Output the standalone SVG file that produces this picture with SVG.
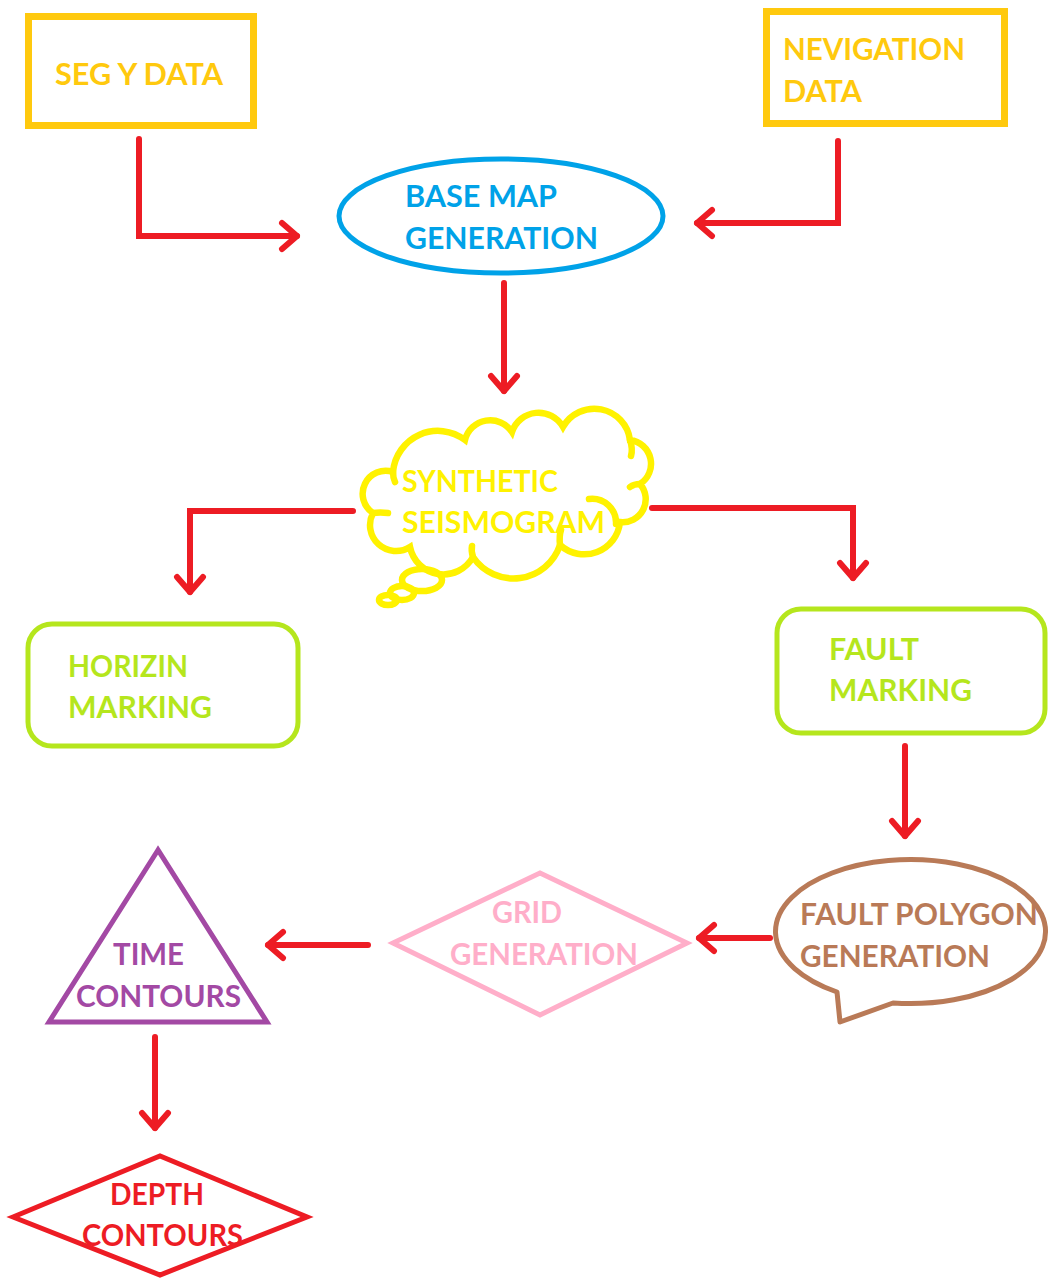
<svg xmlns="http://www.w3.org/2000/svg" width="1049" height="1279" viewBox="0 0 1049 1279">
<defs>
<marker id="arr" markerUnits="userSpaceOnUse" markerWidth="40" markerHeight="40" viewBox="-20 -20 40 40" refX="0" refY="0" orient="auto" overflow="visible">
<path d="M-15,-13 L0,0 L-15,13" fill="none" stroke="#ed1c24" stroke-width="6" stroke-linecap="round" stroke-linejoin="round"/>
</marker>
</defs>
<style>
.t{font-family:Lato,"Open Sans","Liberation Sans",sans-serif;font-weight:bold;font-size:30px}
</style>
<rect width="1049" height="1279" fill="#ffffff"/>
<g id="connectors" fill="none" stroke="#ed1c24" stroke-width="6" stroke-linecap="round" marker-end="url(#arr)">
<path d="M139,139 V236 H297"/>
<path d="M838,141 V223 H697"/>
<path d="M504,283 V391"/>
<path d="M353,511 H190 V592"/>
<path d="M652,508 H853 V578"/>
<path d="M905,746 V836"/>
<path d="M770,938 H699"/>
<path d="M368,945 H268"/>
<path d="M155,1037 V1128"/>
</g>
<g id="segy">
<rect x="28.5" y="16.5" width="225" height="109" fill="none" stroke="#ffc90e" stroke-width="7"/>
<text class="t" x="55" y="85" fill="#ffc90e" textLength="168" lengthAdjust="spacingAndGlyphs">SEG Y DATA</text>
</g>
<g id="navigation">
<rect x="766.5" y="11.5" width="238" height="112" fill="none" stroke="#ffc90e" stroke-width="7"/>
<text class="t" x="783" y="60" fill="#ffc90e" textLength="182" lengthAdjust="spacingAndGlyphs">NEVIGATION</text>
<text class="t" x="783" y="102" fill="#ffc90e" textLength="79" lengthAdjust="spacingAndGlyphs">DATA</text>
</g>
<g id="basemap">
<ellipse cx="501" cy="216" rx="162" ry="57" fill="none" stroke="#00a2e8" stroke-width="5"/>
<text class="t" x="405" y="207" fill="#00a2e8" textLength="152" lengthAdjust="spacingAndGlyphs">BASE MAP</text>
<text class="t" x="405" y="249" fill="#00a2e8" textLength="193" lengthAdjust="spacingAndGlyphs">GENERATION</text>
</g>
<g id="synthetic" fill="none" stroke="#fff200" stroke-width="6.5" stroke-linecap="round">
<path d="M393,472 A45,45 0 0 1 465,440 A26,26 0 0 1 512,432 A28,28 0 0 1 563,427 A36,36 0 0 1 630,440 A24,24 0 0 1 640,484 A23,23 0 0 1 620,522 A36,36 0 0 1 560,545 A49,49 0 0 1 473,557 A34,34 0 0 1 410,547 A26,26 0 0 1 373,513 A23,23 0 0 1 393,472 Z"/>
<path d="M589,499 A24,24 0 0 1 616,524"/>
<path d="M560,545 Q559,536 561,530"/>
<path d="M473,557 Q471,551 472,546"/>
<path d="M630,440 Q633,449 631,456"/>
<path d="M640,484 Q634,484 630,487"/>
<path d="M393,472 Q393,478 395,482"/>
<path d="M373,513 Q380,512 388,513"/>
<ellipse cx="422" cy="580" rx="20" ry="11"/>
<ellipse cx="402" cy="593" rx="12" ry="7"/>
<ellipse cx="388" cy="600" rx="9" ry="5"/>
<text class="t" x="402" y="492" fill="#fff200" stroke="none" textLength="156" lengthAdjust="spacingAndGlyphs">SYNTHETIC</text>
<text class="t" x="402" y="533" fill="#fff200" stroke="none" textLength="203" lengthAdjust="spacingAndGlyphs">SEISMOGRAM</text>
</g>
<g id="horizin">
<rect x="28" y="624" width="270" height="122" rx="24" fill="none" stroke="#b5e61d" stroke-width="5"/>
<text class="t" x="68" y="677" fill="#b5e61d" textLength="120" lengthAdjust="spacingAndGlyphs">HORIZIN</text>
<text class="t" x="68" y="718" fill="#b5e61d" textLength="144" lengthAdjust="spacingAndGlyphs">MARKING</text>
</g>
<g id="fault">
<rect x="777" y="609" width="268" height="124" rx="24" fill="none" stroke="#b5e61d" stroke-width="5"/>
<text class="t" x="829" y="660" fill="#b5e61d" textLength="90" lengthAdjust="spacingAndGlyphs">FAULT</text>
<text class="t" x="829" y="701" fill="#b5e61d" textLength="143" lengthAdjust="spacingAndGlyphs">MARKING</text>
</g>
<g id="faultpolygon">
<path d="M837,992 L840,1022 L893,1003 A135,72 0 1 0 837,992 Z" fill="none" stroke="#b97a57" stroke-width="5" stroke-linejoin="round"/>
<text class="t" x="800" y="925" fill="#b97a57" textLength="238" lengthAdjust="spacingAndGlyphs">FAULT POLYGON</text>
<text class="t" x="800" y="967" fill="#b97a57" textLength="190" lengthAdjust="spacingAndGlyphs">GENERATION</text>
</g>
<g id="grid">
<polygon points="393,943 540,873 687,943 540,1015" fill="none" stroke="#ffaec9" stroke-width="5"/>
<text class="t" x="492" y="923" fill="#ffaec9" textLength="70" lengthAdjust="spacingAndGlyphs">GRID</text>
<text class="t" x="450" y="965" fill="#ffaec9" textLength="188" lengthAdjust="spacingAndGlyphs">GENERATION</text>
</g>
<g id="time">
<polygon points="158,850 49,1022 267,1022" fill="none" stroke="#a349a4" stroke-width="5"/>
<text class="t" x="113" y="965" fill="#a349a4" textLength="71" lengthAdjust="spacingAndGlyphs">TIME</text>
<text class="t" x="76" y="1007" fill="#a349a4" textLength="165" lengthAdjust="spacingAndGlyphs">CONTOURS</text>
</g>
<g id="depth">
<polygon points="13,1217 160,1156 307,1217 160,1275" fill="none" stroke="#ed1c24" stroke-width="5"/>
<text class="t" x="110" y="1205" fill="#ed1c24" textLength="94" lengthAdjust="spacingAndGlyphs">DEPTH</text>
<text class="t" x="82" y="1246" fill="#ed1c24" textLength="161" lengthAdjust="spacingAndGlyphs">CONTOURS</text>
</g>
</svg>
